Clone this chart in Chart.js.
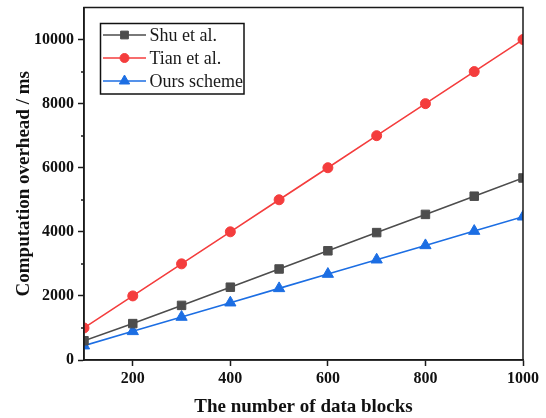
<!DOCTYPE html>
<html>
<head>
<meta charset="utf-8">
<script src="https://cdn.jsdelivr.net/npm/chart.js@4.4.1/dist/chart.umd.min.js"></script>
<style>
  html, body { margin: 0; padding: 0; background: #ffffff; }
  #wrap { width: 546px; height: 418px; position: relative; }
</style>
</head>
<body>
<div id="wrap"><canvas id="c" width="546" height="418"></canvas></div>
<script>
// Number of data blocks
const blocks = [100, 200, 300, 400, 500, 600, 700, 800, 900, 1000];
// Computation overhead (ms) per scheme
const shuEtAl  = [600, 1136, 1704, 2272, 2840, 3408, 3976, 4544, 5112, 5680];
const tianEtAl = [1000, 2000, 3000, 4000, 5000, 6000, 7000, 8000, 9000, 10000];
const oursScheme = [447, 894, 1341, 1788, 2235, 2682, 3129, 3576, 4023, 4470];

const seriesNames = ['Shu et al.', 'Tian et al.', 'Ours scheme'];
const xTickValues = [200, 400, 600, 800, 1000];
const yMajorTicks = [0, 2000, 4000, 6000, 8000, 10000];
const yMinorTicks = [1000, 3000, 5000, 7000, 9000];

const SERIF = '"Liberation Serif", "Times New Roman", serif';
const AXIS = '#1a1a1a';

function toPoints(ys) { return blocks.map((b, i) => ({ x: b, y: ys[i] })); }

// Frame, minor ticks and an in-plot boxed legend
const framePlugin = {
  id: 'frame',
  afterDraw(chart) {
    const { ctx, chartArea: a, scales } = chart;
    ctx.save();
    ctx.strokeStyle = AXIS;
    ctx.lineWidth = 1.5;
    ctx.strokeRect(a.left, a.top, a.right - a.left, a.bottom - a.top);
    // minor ticks on the value axis
    ctx.beginPath();
    yMinorTicks.forEach(v => {
      const y = Math.round(scales.y.getPixelForValue(v));
      ctx.moveTo(a.left - 3, y);
      ctx.lineTo(a.left, y);
    });
    ctx.stroke();

    // legend
    const box = { x: 100.5, y: 23.5, w: 143.5, h: 70.5 };
    ctx.lineWidth = 1.5;
    ctx.strokeStyle = '#111';
    ctx.strokeRect(box.x, box.y, box.w, box.h);
    const rows = [35, 58, 81];
    chart.data.datasets.forEach((ds, i) => {
      const y = rows[i];
      ctx.beginPath();
      ctx.strokeStyle = ds.borderColor;
      ctx.lineWidth = 1.6;
      ctx.moveTo(103, y);
      ctx.lineTo(146, y);
      ctx.stroke();
      ctx.fillStyle = ds.pointBackgroundColor;
      ctx.strokeStyle = ds.pointBorderColor;
      ctx.lineWidth = 1;
      Chart.helpers.drawPoint(ctx, {
        pointStyle: ds.pointStyle,
        radius: ds.pointRadius - 0.5,
        borderWidth: 1
      }, 124.5, y);
      ctx.fillStyle = '#1a1a1a';
      ctx.font = '18px ' + SERIF;
      ctx.textBaseline = 'middle';
      ctx.textAlign = 'left';
      ctx.fillText(ds.label, 149.5, y + 1);
    });
    ctx.restore();
  }
};

const colors = ['#4d4d4d', '#f43d3d', '#1c6ee3'];
const styles = ['rect', 'circle', 'triangle'];
const radii = [6, 5, 6.5];
const values = [shuEtAl, tianEtAl, oursScheme];

const datasets = values.map((ys, i) => ({
  label: seriesNames[i],
  data: toPoints(ys),
  borderColor: colors[i],
  backgroundColor: colors[i],
  pointBackgroundColor: colors[i],
  pointBorderColor: colors[i],
  pointStyle: styles[i],
  pointRadius: radii[i],
  pointBorderWidth: 1,
  borderWidth: 1.6,
  tension: 0,
  clip: 0
}));

Chart.defaults.font.family = SERIF;
Chart.defaults.color = '#111';

new Chart(document.getElementById('c'), {
  type: 'line',
  data: { datasets },
  options: {
    responsive: false,
    animation: false,
    devicePixelRatio: 1,
    layout: { padding: { top: 6, right: 23, left: 0, bottom: 0 } },
    plugins: {
      legend: { display: false },
      tooltip: { enabled: false }
    },
    scales: {
      x: {
        type: 'linear',
        min: 100,
        max: 1000,
        afterBuildTicks(scale) { scale.ticks = xTickValues.map(v => ({ value: v })); },
        afterFit(scale) { scale.height = 58; scale.paddingLeft = 0; scale.paddingRight = 0; },
        ticks: {
          font: { size: 16, weight: 'bold' },
          color: '#111',
          padding: 3,
          maxRotation: 0,
          callback: v => String(v)
        },
        grid: {
          drawOnChartArea: false,
          drawTicks: true,
          tickLength: 6,
          tickWidth: 1.5,
          tickColor: AXIS
        },
        border: { display: true, color: AXIS, width: 1.5 },
        title: {
          display: true,
          text: 'The number of data blocks',
          font: { size: 19, weight: 'bold' },
          color: '#111',
          padding: { top: 0, bottom: 0 }
        }
      },
      y: {
        type: 'linear',
        min: 0,
        max: 11000,
        afterBuildTicks(scale) { scale.ticks = yMajorTicks.map(v => ({ value: v })); },
        afterFit(scale) { scale.width = 84; scale.paddingTop = 0; scale.paddingBottom = 0; },
        ticks: {
          font: { size: 16, weight: 'bold' },
          color: '#111',
          padding: 4,
          callback: v => String(v)
        },
        grid: {
          drawOnChartArea: false,
          drawTicks: true,
          tickLength: 6,
          tickWidth: 1.5,
          tickColor: AXIS
        },
        border: { display: true, color: AXIS, width: 1.5 },
        title: {
          display: true,
          text: 'Computation overhead / ms',
          font: { size: 19, weight: 'bold' },
          color: '#111',
          padding: { top: 13, bottom: 0 }
        }
      }
    }
  },
  plugins: [framePlugin]
});
</script>
</body>
</html>
